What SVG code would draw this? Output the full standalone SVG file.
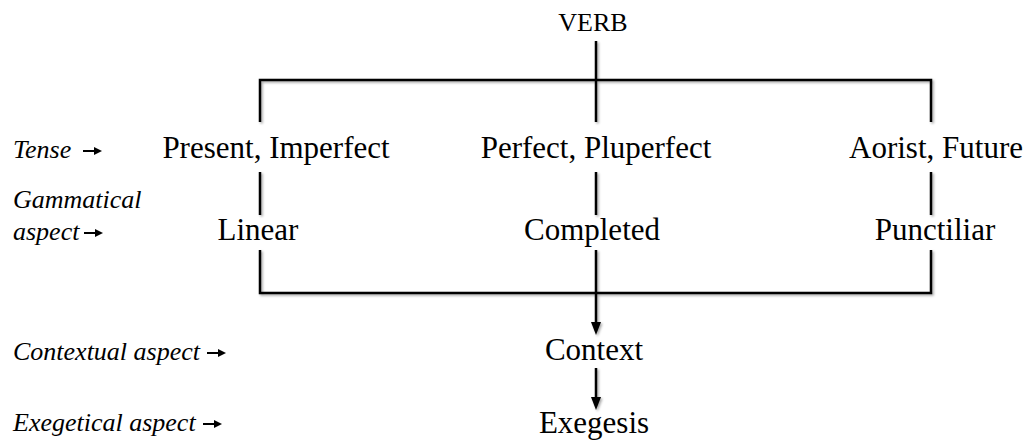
<svg xmlns="http://www.w3.org/2000/svg" width="1031" height="442" viewBox="0 0 1031 442">
<style>
.main{font-family:"Liberation Serif","Times New Roman",serif;font-size:31px;fill:#000;text-anchor:middle}
.top{font-family:"Liberation Serif","Times New Roman",serif;font-size:26px;fill:#000;text-anchor:middle}
.lab{font-family:"Liberation Serif","Times New Roman",serif;font-size:26px;font-style:italic;fill:#000}
.ln{stroke:#000;stroke-width:2.5;fill:none}
.la{stroke:#000;stroke-width:2;fill:none}
</style>
<defs>
<filter id="sh" x="-10%" y="-10%" width="120%" height="120%">
<feDropShadow dx="1.5" dy="1.5" stdDeviation="0.8" flood-color="#000" flood-opacity="0.35"/>
</filter>
<marker id="ah" markerWidth="10" markerHeight="12" refX="5" refY="11" orient="auto-start-reverse" markerUnits="userSpaceOnUse" viewBox="0 0 10 12">
<path d="M0,0 L10,0 L5,12 Z" fill="#000"/>
</marker>
<g id="smallArrow">
<line x1="0" y1="0" x2="12" y2="0" class="la"/>
<path d="M11,-4 L19,0 L11,4 Z" fill="#000"/>
</g>
</defs>

<g id="connectors" filter="url(#sh)">
<line class="ln" x1="596" y1="41" x2="596" y2="122"/>
<polyline class="ln" points="260,122 260,80 931,80 931,122"/>
<line class="ln" x1="260" y1="172" x2="260" y2="215"/>
<line class="ln" x1="596" y1="172" x2="596" y2="215"/>
<line class="ln" x1="931" y1="172" x2="931" y2="215"/>
<polyline class="ln" points="260,250 260,293 931,293 931,250"/>
<line class="ln" x1="596" y1="250" x2="596" y2="293"/>
<path class="ln" d="M596,293 L596,324"/>
<path d="M591,322 L601,322 L596,335 Z" fill="#000"/>
<path class="ln" d="M596,368 L596,399"/>
<path d="M591,397 L601,397 L596,410 Z" fill="#000"/>
</g>

<g id="node-verb"><text class="top" x="593" y="31">VERB</text></g>
<g id="node-present"><text class="main" x="276" y="158">Present, Imperfect</text></g>
<g id="node-perfect"><text class="main" x="596" y="158">Perfect, Pluperfect</text></g>
<g id="node-aorist"><text class="main" x="936" y="158">Aorist, Future</text></g>
<g id="node-linear"><text class="main" x="258" y="240">Linear</text></g>
<g id="node-completed"><text class="main" x="592" y="240">Completed</text></g>
<g id="node-punctiliar"><text class="main" x="935" y="240">Punctiliar</text></g>
<g id="node-context"><text class="main" x="594" y="360">Context</text></g>
<g id="node-exegesis"><text class="main" x="594" y="433">Exegesis</text></g>

<g id="labels">
<text class="lab" x="13" y="158">Tense</text>
<use href="#smallArrow" x="83" y="151"/>
<text class="lab" x="13" y="208">Gammatical</text>
<text class="lab" x="13" y="240">aspect</text>
<use href="#smallArrow" x="84" y="233"/>
<text class="lab" x="13" y="360">Contextual aspect</text>
<use href="#smallArrow" x="207" y="353"/>
<text class="lab" x="13" y="431">Exegetical aspect</text>
<use href="#smallArrow" x="203" y="424"/>
</g>
</svg>
